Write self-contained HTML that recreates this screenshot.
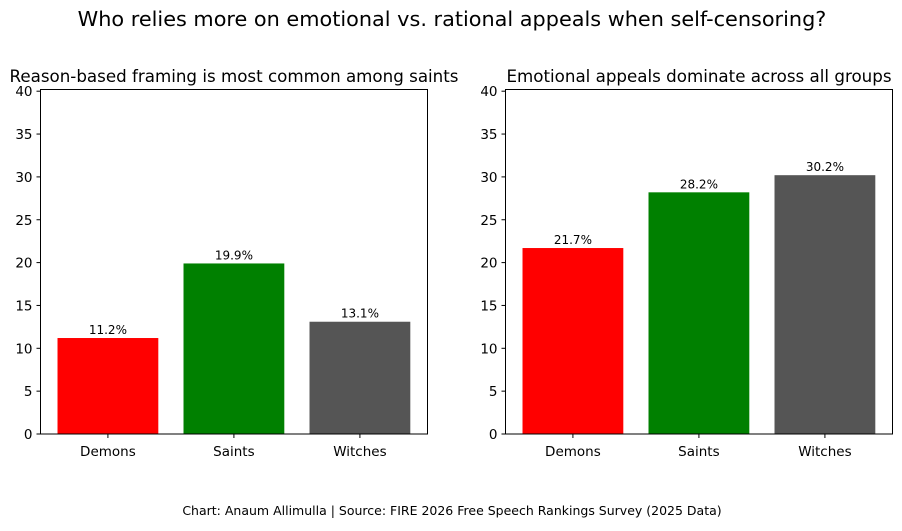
<!DOCTYPE html>
<html><head><meta charset="utf-8"><style>
body{margin:0;background:#fff;font-family:"DejaVu Sans",sans-serif}
svg text{font-family:"DejaVu Sans",sans-serif;fill:#000}
</style></head><body>
<svg id="chart" width="902" height="527" viewBox="0 0 902 527" xmlns="http://www.w3.org/2000/svg">
<text x="452" y="26" text-anchor="middle" font-size="20.8">Who relies more on emotional vs. rational appeals when self-censoring?</text>
<text x="452" y="515" text-anchor="middle" font-size="12.5">Chart: Anaum Allimulla | Source: FIRE 2026 Free Speech Rankings Survey (2025 Data)</text>
</svg>
<script>
const categories = ["Demons","Saints","Witches"];
const reasonValues = [11.2,19.9,13.1];
const emotionValues = [21.7,28.2,30.2];
const yTicks = [0,5,10,15,20,25,30,35,40];
const colors = ["#ff0000","#008000","#555555"];
const svg = document.getElementById('chart');
const NS = "http://www.w3.org/2000/svg";
function mk(tag, attrs){const e=document.createElementNS(NS,tag);for(const k in attrs)e.setAttribute(k,attrs[k]);svg.appendChild(e);return e;}
const y0=434, yPerUnit=8.57;
function yScale(v){return y0 - v*yPerUnit;}
const unit=126;
function panel(x0, values, title, key){
  const w=387, top=89.5;
  const t=mk('text',{x:x0+w/2,y:82,'text-anchor':'middle','font-size':16.7});
  t.textContent=title;
  
  
  values.forEach((v,i)=>{
    const cx = x0 + (i+0.535)*unit;
    const bw = 0.8*unit;
    const r=mk('rect',{x:cx-bw/2,y:yScale(v),width:bw,height:y0-yScale(v),fill:colors[i]});
    
    
    const lbl=mk('text',{x:cx,y:yScale(v)-4,'text-anchor':'middle','font-size':12});
    lbl.textContent=v.toFixed(1)+'%';
    
    
    mk('line',{x1:cx,x2:cx,y1:y0,y2:y0+4,stroke:'#000'});
    const xl=mk('text',{x:cx,y:456,'text-anchor':'middle','font-size':13.5});
    xl.textContent=categories[i];
    
    
  });
  yTicks.forEach(v=>{
    const y=yScale(v);
    mk('line',{x1:x0-4,x2:x0,y1:y,y2:y,stroke:'#000'});
    const l=mk('text',{x:x0-8,y:y+5,'text-anchor':'end','font-size':13.5});
    l.textContent=v;
    
    
  });
  const box=mk('rect',{x:x0,y:top,width:w,height:y0-top,fill:'none',stroke:'#000','stroke-width':1});
  
  
}
panel(40.5, reasonValues, "Reason-based framing is most common among saints", "reason");
panel(505.5, emotionValues, "Emotional appeals dominate across all groups", "emotion");
</script>
</body></html>
